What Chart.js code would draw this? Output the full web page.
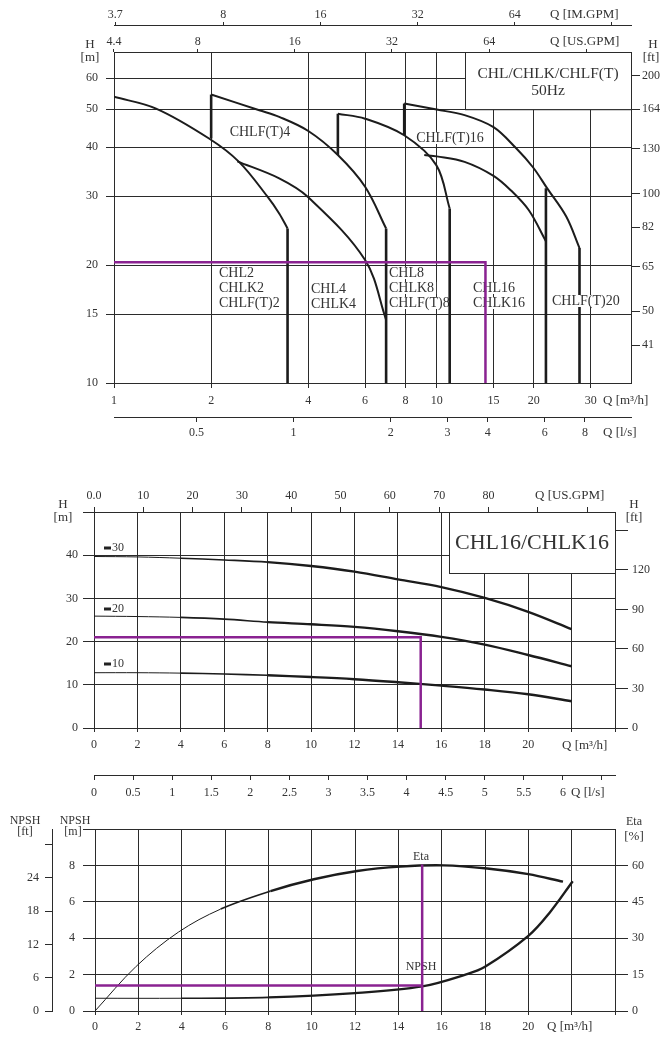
<!DOCTYPE html>
<html>
<head>
<meta charset="utf-8">
<script src="https://cdn.jsdelivr.net/npm/chart.js@4/dist/chart.umd.min.js"></script>
<style>
  html, body { margin: 0; padding: 0; background: #fff; }
  body { width: 663px; height: 1039px; position: relative; overflow: hidden; }
  canvas { position: absolute; left: 0; }
</style>
</head>
<body>
<canvas id="top" width="663" height="445" style="top:0px"></canvas>
<canvas id="mid" width="663" height="320" style="top:480px"></canvas>
<canvas id="bot" width="663" height="239" style="top:800px"></canvas>
<script>
// unit conversions
const M3H_TO_USGPM = 4.4029;
const M3H_TO_IMGPM = 3.6662;
const M3H_TO_LS = 1 / 3.6;
const M_TO_FT = 3.2808;

// ---- top chart: CHL/CHLK/CHLF(T) range, Q [m3/h] vs H [m] ----
const qTicks = [1, 2, 4, 6, 8, 10, 15, 20, 30];
const hTicks = [10, 15, 20, 30, 40, 50, 60];
const ftTicks = [41, 50, 65, 82, 100, 130, 164, 200];
const usTicks = [4.4, 8, 16, 32, 64, 128];
const imTicks = [3.7, 8, 16, 32, 64, 128];
const lsTicks = [0.5, 1, 2, 3, 4, 6, 8];

const curve2 = [[1, 53.8], [1.35, 50.2], [1.97, 42.1], [2.44, 36.7], [2.99, 29.9], [3.25, 27.1], [3.45, 24.8]];
const curve4 = [[2, 54.5], [2.82, 49.7], [3.25, 47.8], [4.0, 44.0], [4.94, 38.2], [6.0, 31.7], [6.97, 24.8]];
const curve4b = [[2.41, 36.8], [3.25, 33.3], [4.0, 29.8], [6.0, 20.6], [6.97, 14.5]];
const curve8 = [[4.94, 48.7], [6.0, 47.3], [7.93, 42.9], [9.97, 36.0], [10.97, 27.9]];
const curve8b = [[9.15, 38.2], [10.0, 37.9], [12.2, 36.7], [15.0, 33.8], [17.0, 31.0], [19.3, 27.6], [21.8, 23.0]];
const curve16 = [[7.93, 51.7], [10.0, 49.9], [12.2, 48.3], [15.0, 45.0], [17.6, 39.8], [19.9, 35.5], [22.0, 31.4], [25.2, 26.6], [27.7, 22.1]];
// end of curve: [Q, H] dropped to H = 10
const maxFlow = [[3.45, 24.8], [6.97, 24.8], [10.97, 27.9], [21.8, 31.4], [27.7, 22.1]];
// start of curve: [Q, Hlow, Hhigh]
const startSteps = [[2, 42.1, 54.5], [4.94, 38.2, 48.7], [7.93, 42.9, 51.7]];
const dutyTop = [14.16, 20.35];

// ---- middle chart: CHL16/CHLK16, stages 10/20/30 ----
const qMid = [0, 2, 4, 6, 8, 10, 12, 14, 16, 18, 20, 22];
const h30 = [39.7, 39.6, 39.3, 38.9, 38.4, 37.5, 36.2, 34.4, 32.6, 30.1, 26.9, 22.9];
const h20 = [25.9, 25.8, 25.6, 25.2, 24.5, 24.0, 23.4, 22.4, 21.1, 19.3, 16.9, 14.3];
const h10 = [12.8, 12.8, 12.7, 12.5, 12.2, 11.8, 11.3, 10.6, 9.8, 8.9, 7.8, 6.2];
const dutyMid = [15.05, 21.0];

// ---- bottom chart: NPSH and efficiency ----
const qEta = [0, 1.9, 3.85, 5.8, 8.1, 10.1, 12.1, 14.1, 16.1, 18.1, 20, 21.6];
const eta = [0, 18.4, 32.5, 42.0, 49.4, 54.3, 57.7, 59.5, 60, 58.7, 56.4, 53.3];
const qNpsh = [0, 4, 8, 12, 15.1, 17.1, 18, 20, 21, 22.05];
const npsh = [0.7, 0.7, 0.75, 0.98, 1.35, 2.0, 2.43, 4.13, 5.43, 7.13];
const dutyBot = [15.1, 1.4, 8.05];

const serif = "'Liberation Serif', 'DejaVu Serif', serif";
Chart.defaults.font.family = serif;
Chart.defaults.font.size = 12;
Chart.defaults.color = '#333';
Chart.defaults.animation = false;

const gridCol = '#2b2b2b';
const lineCol = '#1c1c1c';
const purple = '#8a2291';

const pairs = arr => arr.map(p => ({ x: p[0], y: p[1] }));
const zip = (xs, ys) => xs.map((x, i) => ({ x: x, y: ys[i] }));
const setTicks = vals => s => { s.ticks = vals.map(v => ({ value: v })); };
const size = (w, h) => s => { if (w != null) s.width = w; if (h != null) s.height = h; };
const taper = (a, b) => c => { const q = c.p1.parsed.x; return q < a ? 1 : (q < b ? 1.6 : 2.4); };

function curveSet(data, extra) {
  return Object.assign({ data: data, borderColor: lineCol, borderWidth: 2, pointRadius: 0,
    fill: false, tension: 0.35, xAxisID: 'x', yAxisID: 'y' }, extra || {});
}
function straight(data, color, width, extra) {
  return Object.assign({ data: data, borderColor: color, borderWidth: width, pointRadius: 0,
    fill: false, tension: 0, xAxisID: 'x', yAxisID: 'y' }, extra || {});
}

function drawText(ctx, it) {
  ctx.font = (it.bold ? 'bold ' : '') + (it.size || 12) + 'px ' + serif;
  ctx.textAlign = it.align || 'left';
  ctx.textBaseline = 'middle';
  if (it.bg) {
    const w = ctx.measureText(it.t).width;
    const x0 = it.align === 'center' ? it.x - w / 2 : it.x;
    ctx.fillStyle = '#fff';
    ctx.fillRect(x0 - 2, it.y - 6, w + 4, 12);
  }
  ctx.fillStyle = it.color || '#333';
  ctx.fillText(it.t, it.x, it.y);
}

function labelPlugin(items, boxFn) {
  return {
    id: 'labels',
    beforeDatasetsDraw(chart) {
      const ctx = chart.ctx;
      ctx.save();
      if (boxFn) boxFn(chart, ctx);
      items.filter(it => !it.over).forEach(it => drawText(ctx, it));
      ctx.restore();
    },
    afterDatasetsDraw(chart) {
      const ctx = chart.ctx;
      ctx.save();
      items.filter(it => it.over).forEach(it => drawText(ctx, it));
      ctx.restore();
    }
  };
}

function titleBox(chart, ctx, left, bottom) {
  const a = chart.chartArea;
  ctx.fillStyle = '#fff';
  ctx.fillRect(left, a.top, a.right - left, bottom - a.top);
  ctx.strokeStyle = gridCol;
  ctx.lineWidth = 1;
  ctx.strokeRect(left + 0.5, a.top + 0.5, a.right - left, bottom - a.top);
}

const baseOpts = {
  responsive: false,
  animation: false,
  plugins: { legend: { display: false }, tooltip: { enabled: false } },
  elements: { line: { borderCapStyle: 'butt' } }
};

// ================= TOP =================
const topSets = [
  straight(pairs([[1, dutyTop[1]], [dutyTop[0], dutyTop[1]], [dutyTop[0], 10]]), purple, 2.5),
  curveSet(pairs(curve2)),
  curveSet(pairs(curve4)),
  curveSet(pairs(curve4b)),
  curveSet(pairs(curve8)),
  curveSet(pairs(curve8b)),
  curveSet(pairs(curve16))
];
maxFlow.forEach(p => topSets.push(straight([{ x: p[0], y: p[1] }, { x: p[0], y: 10 }], lineCol, 2.6)));
startSteps.forEach(p => topSets.push(straight([{ x: p[0], y: p[1] }, { x: p[0], y: p[2] }], lineCol, 2.6)));

const topLabels = [
  { t: 'Q [IM.GPM]', x: 550, y: 15, size: 13 },
  { t: 'Q [US.GPM]', x: 550, y: 42, size: 13 },
  { t: 'H', x: 90, y: 45, align: 'center', size: 13 },
  { t: '[m]', x: 90, y: 58, align: 'center', size: 13 },
  { t: 'H', x: 653, y: 45, align: 'center', size: 13 },
  { t: '[ft]', x: 651, y: 58, align: 'center', size: 13 },
  { t: 'Q [m³/h]', x: 603, y: 401, size: 13 },
  { t: 'Q [l/s]', x: 603, y: 433, size: 13 },
  { t: 'CHL/CHLK/CHLF(T)', x: 548, y: 74, align: 'center', size: 15.5 },
  { t: '50Hz', x: 548, y: 91, align: 'center', size: 15.5 },
  { t: 'CHLF(T)4', x: 260, y: 132, align: 'center', size: 14, bg: true },
  { t: 'CHLF(T)16', x: 450, y: 138, align: 'center', size: 14, bg: true },
  { t: 'CHL2', x: 219, y: 273, size: 14, bg: true },
  { t: 'CHLK2', x: 219, y: 288, size: 14, bg: true },
  { t: 'CHLF(T)2', x: 219, y: 303, size: 14, bg: true },
  { t: 'CHL4', x: 311, y: 289, size: 14, bg: true },
  { t: 'CHLK4', x: 311, y: 304, size: 14, bg: true },
  { t: 'CHL8', x: 389, y: 273, size: 14, bg: true },
  { t: 'CHLK8', x: 389, y: 288, size: 14, bg: true },
  { t: 'CHLF(T)8', x: 389, y: 303, size: 14, bg: true },
  { t: 'CHL16', x: 473, y: 288, size: 14, bg: true },
  { t: 'CHLK16', x: 473, y: 303, size: 14, bg: true },
  { t: 'CHLF(T)20', x: 552, y: 301, size: 14, bg: true, over: true }
];

new Chart(document.getElementById('top'), {
  type: 'line',
  data: { datasets: topSets },
  options: Object.assign({}, baseOpts, {
    layout: { padding: 0 },
    scales: {
      x: { type: 'logarithmic', position: 'bottom', weight: 1, min: 1, max: 40, bounds: 'data',
        afterBuildTicks: setTicks(qTicks), afterFit: size(null, 34),
        grid: { color: gridCol, tickLength: 5 }, border: { color: gridCol },
        ticks: { autoSkip: false, maxRotation: 0, padding: 6, callback: v => String(v) } },
      xLs: { type: 'logarithmic', position: 'bottom', weight: 2, min: 1 * M3H_TO_LS, max: 40 * M3H_TO_LS, bounds: 'data',
        afterBuildTicks: setTicks(lsTicks), afterFit: size(null, 28),
        grid: { drawOnChartArea: false, color: gridCol, tickLength: 5 }, border: { color: gridCol },
        ticks: { autoSkip: false, maxRotation: 0, padding: 4, callback: v => String(v) } },
      xUS: { type: 'logarithmic', position: 'top', weight: 1, min: 1 * M3H_TO_USGPM, max: 40 * M3H_TO_USGPM, bounds: 'data',
        afterBuildTicks: setTicks(usTicks), afterFit: size(null, 27),
        grid: { drawOnChartArea: false, color: gridCol, tickLength: 3 }, border: { color: gridCol },
        ticks: { autoSkip: false, maxRotation: 0, padding: 0, callback: v => (v > 100 ? '' : String(v)) } },
      xIM: { type: 'logarithmic', position: 'top', weight: 2, min: 1 * M3H_TO_IMGPM, max: 40 * M3H_TO_IMGPM, bounds: 'data',
        afterBuildTicks: setTicks(imTicks), afterFit: size(null, 25),
        grid: { drawOnChartArea: false, color: gridCol, tickLength: 3 }, border: { color: gridCol },
        ticks: { autoSkip: false, maxRotation: 0, padding: 0, callback: v => (v > 100 ? '' : String(v)) } },
      y: { type: 'logarithmic', position: 'left', min: 10, max: 70, bounds: 'data',
        afterBuildTicks: setTicks(hTicks), afterFit: size(114, null),
        grid: { color: gridCol, tickLength: 8 }, border: { color: gridCol },
        ticks: { autoSkip: false, padding: 8, callback: v => String(v) } },
      yFt: { type: 'logarithmic', position: 'right', min: 10 * M_TO_FT, max: 70 * M_TO_FT, bounds: 'data',
        afterBuildTicks: setTicks(ftTicks), afterFit: size(32, null),
        grid: { drawOnChartArea: false, color: gridCol, tickLength: 9 }, border: { color: gridCol },
        ticks: { autoSkip: false, padding: 2, callback: v => String(v) } }
    }
  }),
  plugins: [labelPlugin(topLabels, (chart, ctx) => {
    titleBox(chart, ctx, 465, chart.scales.y.getPixelForValue(50));
  })]
});

// ================= MIDDLE =================
const stepTicks = (a, b, s) => { const out = []; for (let v = a; v <= b + 1e-9; v += s) out.push(+v.toFixed(2)); return out; };

const midSets = [
  straight(pairs([[0, dutyMid[1]], [dutyMid[0], dutyMid[1]], [dutyMid[0], 0]]), purple, 2.5),
  curveSet(zip(qMid, h30), { segment: { borderWidth: taper(6, 10) } }),
  curveSet(zip(qMid, h20), { segment: { borderWidth: taper(6, 10) } }),
  curveSet(zip(qMid, h10), { segment: { borderWidth: taper(6, 10) } })
];

const midLabels = [
  { t: 'Q [US.GPM]', x: 535, y: 16, size: 13 },
  { t: 'H', x: 63, y: 25, align: 'center', size: 13 },
  { t: '[m]', x: 63, y: 38, align: 'center', size: 13 },
  { t: 'H', x: 634, y: 25, align: 'center', size: 13 },
  { t: '[ft]', x: 634, y: 38, align: 'center', size: 13 },
  { t: 'Q [m³/h]', x: 562, y: 266, size: 13 },
  { t: 'Q [l/s]', x: 571, y: 313, size: 13 },
  { t: 'CHL16/CHLK16', x: 532, y: 63, align: 'center', size: 22 },
  { t: '30', x: 112, y: 68, size: 12 },
  { t: '20', x: 112, y: 129, size: 12 },
  { t: '10', x: 112, y: 184, size: 12 }
];

new Chart(document.getElementById('mid'), {
  type: 'line',
  data: { datasets: midSets },
  options: Object.assign({}, baseOpts, {
    layout: { padding: 0 },
    scales: {
      x: { type: 'linear', position: 'bottom', weight: 1, min: 0, max: 24,
        afterBuildTicks: setTicks(stepTicks(0, 24, 2)), afterFit: size(null, 47),
        grid: { color: gridCol, tickLength: 4 }, border: { color: gridCol },
        ticks: { autoSkip: false, maxRotation: 0, padding: 6, callback: v => (v > 20 ? '' : String(v)) } },
      xLs: { type: 'linear', position: 'bottom', weight: 2, min: 0, max: 24 * M3H_TO_LS,
        afterBuildTicks: setTicks(stepTicks(0, 6.5, 0.5)), afterFit: size(null, 25),
        grid: { drawOnChartArea: false, color: gridCol, tickLength: 5 }, border: { color: gridCol },
        ticks: { autoSkip: false, maxRotation: 0, padding: 6, callback: v => (v > 6 ? '' : String(v)) } },
      xUS: { type: 'linear', position: 'top', min: 0, max: 24 * M3H_TO_USGPM,
        afterBuildTicks: setTicks(stepTicks(0, 100, 10)), afterFit: size(null, 32),
        grid: { drawOnChartArea: false, color: gridCol, tickLength: 5 }, border: { color: gridCol },
        ticks: { autoSkip: false, maxRotation: 0, padding: 4, callback: v => (v === 0 ? '0.0' : (v > 80 ? '' : String(v))) } },
      y: { type: 'linear', position: 'left', min: 0, max: 50,
        afterBuildTicks: setTicks([0, 10, 20, 30, 40, 50]), afterFit: size(94, null),
        grid: { color: gridCol, tickLength: 11 }, border: { color: gridCol },
        ticks: { autoSkip: false, padding: 5, callback: v => (v > 40 ? '' : String(v)) } },
      yFt: { type: 'linear', position: 'right', min: 0, max: 50 * M_TO_FT,
        afterBuildTicks: setTicks([0, 30, 60, 90, 120, 150]), afterFit: size(48, null),
        grid: { drawOnChartArea: false, color: gridCol, tickLength: 13 }, border: { color: gridCol },
        ticks: { autoSkip: false, padding: 4, callback: v => (v > 120 ? '' : String(v)) } }
    }
  }),
  plugins: [labelPlugin(midLabels, (chart, ctx) => {
    titleBox(chart, ctx, 449, 93);
    ctx.fillStyle = '#222';
    [68, 129, 184].forEach(y => ctx.fillRect(104, y - 1.5, 7, 3));
  })]
});

// ================= BOTTOM =================
const botSets = [
  straight(pairs([[0, dutyBot[1]], [dutyBot[0], dutyBot[1]]]), purple, 2.5),
  straight(pairs([[dutyBot[0], dutyBot[2]], [dutyBot[0], 0]]), purple, 2.5),
  curveSet(zip(qEta, eta), { yAxisID: 'eta', segment: { borderWidth: taper(6, 9) } }),
  curveSet(zip(qNpsh, npsh), { segment: { borderWidth: taper(8, 12) } })
];

const botLabels = [
  { t: 'NPSH', x: 25, y: 21, align: 'center', size: 12 },
  { t: '[ft]', x: 25, y: 32, align: 'center', size: 12 },
  { t: 'NPSH', x: 75, y: 21, align: 'center', size: 12 },
  { t: '[m]', x: 73, y: 32, align: 'center', size: 12 },
  { t: 'Eta', x: 634, y: 22, align: 'center', size: 12 },
  { t: '[%]', x: 634, y: 37, align: 'center', size: 13 },
  { t: 'Eta', x: 421, y: 57, align: 'center', size: 12 },
  { t: 'NPSH', x: 421, y: 167, align: 'center', size: 12 },
  { t: 'Q [m³/h]', x: 547, y: 227, size: 13 }
];

new Chart(document.getElementById('bot'), {
  type: 'line',
  data: { datasets: botSets },
  options: Object.assign({}, baseOpts, {
    layout: { padding: { top: 29 } },
    scales: {
      x: { type: 'linear', position: 'bottom', min: 0, max: 24,
        afterBuildTicks: setTicks(stepTicks(0, 24, 2)), afterFit: size(null, 28),
        grid: { color: gridCol, tickLength: 4 }, border: { color: gridCol },
        ticks: { autoSkip: false, maxRotation: 0, padding: 5, callback: v => (v > 20 ? '' : String(v)) } },
      y: { type: 'linear', position: 'left', weight: 1, min: 0, max: 10,
        afterBuildTicks: setTicks([0, 2, 4, 6, 8, 10]), afterFit: size(43, null),
        grid: { color: gridCol, tickLength: 12 }, border: { color: gridCol },
        ticks: { autoSkip: false, padding: 8, callback: v => (v > 8 ? '' : String(v)) } },
      yFt: { type: 'linear', position: 'left', weight: 2, min: 0, max: 10 * M_TO_FT,
        afterBuildTicks: setTicks([0, 6, 12, 18, 24, 30]), afterFit: size(52, null),
        grid: { drawOnChartArea: false, color: gridCol, tickLength: 7 }, border: { color: gridCol },
        ticks: { autoSkip: false, padding: 6, callback: v => (v > 24 ? '' : String(v)) } },
      eta: { type: 'linear', position: 'right', min: 0, max: 75,
        afterBuildTicks: setTicks([0, 15, 30, 45, 60]), afterFit: size(48, null),
        grid: { drawOnChartArea: false, color: gridCol, tickLength: 13 }, border: { color: gridCol },
        ticks: { autoSkip: false, padding: 4, callback: v => String(v) } }
    }
  }),
  plugins: [labelPlugin(botLabels)]
});
</script>
</body>
</html>
